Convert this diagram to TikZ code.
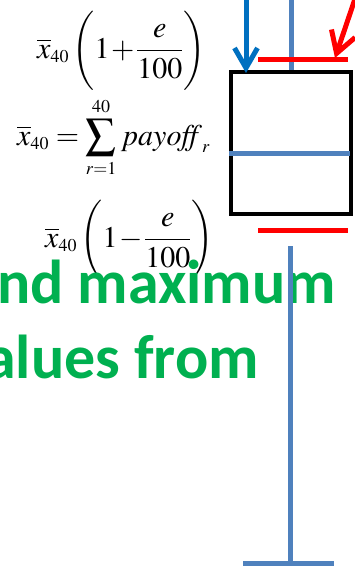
\documentclass[tikz,border=0pt]{standalone}
\usepackage{mathptmx}
\usepackage{graphicx}
\usepackage[no-math]{fontspec}
\newfontfamily\carlito{Carlito}
\usetikzlibrary{arrows.meta}
\DeclareMathSizes{30}{30}{18}{14}
\definecolor{steel}{HTML}{4F81BD}
\definecolor{darkblue}{HTML}{0070C0}
\definecolor{pptgreen}{HTML}{00B050}
\definecolor{pptred}{HTML}{FF0000}
\newcommand{\myLP}{\mathopen{\vcenter{\hbox{\scalebox{1}[1.1]{$\biggl($}}}}}
\newcommand{\myRP}{\mathclose{\vcenter{\hbox{\scalebox{1}[1.1]{$\biggr)$}}}}}
\begin{document}
\begin{tikzpicture}[x=1pt,y=-1pt,
  bar/.style={line width=5pt},
  frm/.style={inner sep=0pt,anchor=base west,font=\fontsize{30}{36}\selectfont},
  bigtext/.style={inner sep=0pt,anchor=base west,text=pptgreen,font=\carlito\bfseries\fontsize{62}{70}\selectfont}]
\useasboundingbox (0,0) rectangle (355,570);
\clip (0,0) rectangle (355,570);
% formulas
\node[frm] (f1) at (37,58) {$\medmuskip=1mu\displaystyle \overline{x}_{40}\,\myLP 1+\frac{e}{100}\myRP$};
\node[frm] (f2) at (17,145) {$\displaystyle \overline{x}_{40}=\sum_{r=1}^{40}\, \mathit{payoff}_r$};
\node[frm] (f3) at (45,247) {$\medmuskip=1mu\displaystyle \overline{x}_{40}\,\myLP 1-\frac{e}{100}\myRP$};
% green text
\node[bigtext] (g1) at (-3,303) {nd maximum};
\node[bigtext] (g2) at (-15,378) {alues from};
% box
\node[draw=black,line width=4pt,minimum width=120pt,minimum height=142.5pt,inner sep=0pt] (box) at (291,142.75) {};
% blue steel lines
\coordinate (t1) at (291,-3);
\draw[bar,steel] (t1) -- (box.north);
\coordinate (m1) at (229,153);
\coordinate (m2) at (350,153);
\draw[bar,steel] (m1) -- (m2);
\coordinate (l1) at (290.5,246);
\coordinate (l2) at (290.5,563);
\draw[bar,steel] (l1) -- (l2);
\coordinate (b1) at (243,563);
\coordinate (b2) at (334,563);
\draw[bar,steel] (b1) -- (b2);
% dark blue arrow
\coordinate (a1) at (246,-3);
\coordinate (a2) at (246,73);
\draw[bar,darkblue,-{Straight Barb[length=20pt,width=23pt]}] (a1) -- (a2);
% red lines
\coordinate (rl1) at (258,59);
\coordinate (rl2) at (348,59);
\draw[bar,pptred] (rl1) -- (rl2);
\coordinate (rl3) at (258,230.5);
\coordinate (rl4) at (348,230.5);
\draw[bar,pptred] (rl3) -- (rl4);
\coordinate (r1) at (358,-10);
\coordinate (r2) at (335,58);
\draw[bar,pptred,-{Straight Barb[length=21pt,width=25pt]}] (r1) -- (r2);
\end{tikzpicture}
\end{document}
